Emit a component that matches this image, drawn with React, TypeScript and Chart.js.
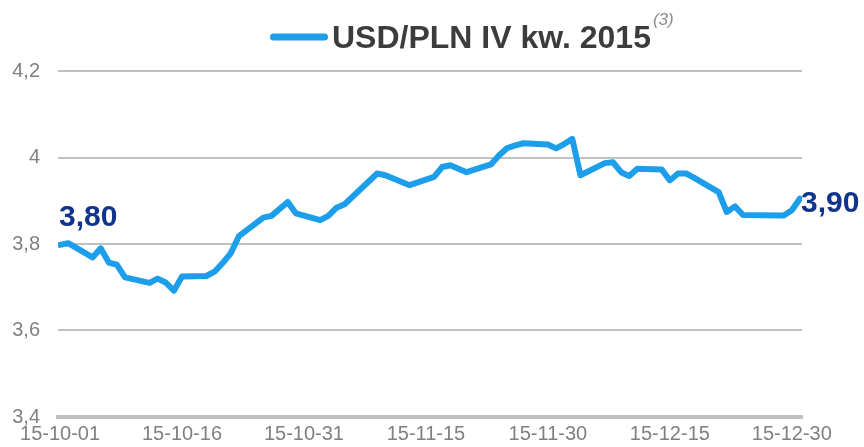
import React, { useEffect, useRef } from "react";
import { Chart, registerables } from "chart.js";

Chart.register(...registerables);

// ---- data ----
const DATES = [
  "2015-10-01", "2015-10-02", "2015-10-05", "2015-10-06", "2015-10-07", "2015-10-08", "2015-10-09",
  "2015-10-12", "2015-10-13", "2015-10-14", "2015-10-15", "2015-10-16", "2015-10-19", "2015-10-20",
  "2015-10-21", "2015-10-22", "2015-10-23", "2015-10-26", "2015-10-27", "2015-10-29", "2015-10-30",
  "2015-11-02", "2015-11-03", "2015-11-04", "2015-11-05", "2015-11-09", "2015-11-10", "2015-11-13",
  "2015-11-16", "2015-11-17", "2015-11-18", "2015-11-20", "2015-11-23", "2015-11-24", "2015-11-25",
  "2015-11-26", "2015-11-27", "2015-11-30", "2015-12-01", "2015-12-02", "2015-12-03", "2015-12-04",
  "2015-12-07", "2015-12-08", "2015-12-09", "2015-12-10", "2015-12-11", "2015-12-14", "2015-12-15",
  "2015-12-16", "2015-12-17", "2015-12-18", "2015-12-21", "2015-12-22", "2015-12-23", "2015-12-24",
  "2015-12-29", "2015-12-30", "2015-12-31",
];
const VALUES = [
  3.798, 3.802, 3.769, 3.790, 3.757, 3.752, 3.723,
  3.710, 3.720, 3.711, 3.692, 3.725, 3.726, 3.736,
  3.756, 3.779, 3.818, 3.861, 3.865, 3.897, 3.871,
  3.855, 3.865, 3.884, 3.892, 3.963, 3.959, 3.936,
  3.955, 3.978, 3.982, 3.966, 3.984, 4.005, 4.022,
  4.028, 4.033, 4.030, 4.021, 4.031, 4.043, 3.959,
  3.987, 3.989, 3.966, 3.957, 3.974, 3.972, 3.947,
  3.963, 3.963, 3.953, 3.920, 3.874, 3.887, 3.867,
  3.866, 3.878, 3.905,
];
const X_TICK_DATES = ["2015-10-01", "2015-10-16", "2015-10-31", "2015-11-15", "2015-11-30", "2015-12-15", "2015-12-30"];
const X_TICK_LABELS = ["15-10-01", "15-10-16", "15-10-31", "15-11-15", "15-11-30", "15-12-15", "15-12-30"];
const Y_TICKS = [3.4, 3.6, 3.8, 4.0, 4.2];
const Y_TICK_LABELS = ["3,4", "3,6", "3,8", "4", "4,2"];
const SERIES_LABEL = "USD/PLN IV kw. 2015";
const SERIES_NOTE = "(3)";
const END_LABELS = ["3,80", "3,90"];

// ---- helpers ----
const ORIGIN = Date.UTC(2015, 9, 1);
const dayOf = (s: string) => {
  const [y, m, d] = s.split("-").map(Number);
  return (Date.UTC(y, m - 1, d) - ORIGIN) / 86400000;
};

const LINE_COLOR = "#1D9EEA";
const GRID_COLOR = "#c0c0c0";
const TICK_COLOR = "#808080";
const NAVY = "#10348C";
const FONT = "'Liberation Sans', Arial, sans-serif";

const overlayPlugin = {
  id: "overlay",
  afterDatasetsDraw(chart: any) {
    const ctx = chart.ctx;
    const meta = chart.getDatasetMeta(0);
    const pts = meta.data;
    if (!pts.length) return;
    const first = pts[0];
    const last = pts[pts.length - 1];
    ctx.save();
    ctx.fillStyle = NAVY;
    ctx.font = `bold 30px ${FONT}`;
    ctx.textAlign = "left";
    ctx.textBaseline = "alphabetic";
    ctx.fillText(END_LABELS[0], first.x - 1, first.y - 19);
    ctx.textBaseline = "middle";
    ctx.fillText(END_LABELS[1], last.x + 1, last.y + 5);
    ctx.restore();
  },
  afterDraw(chart: any) {
    const ctx = chart.ctx;
    ctx.save();
    // legend sample line
    ctx.strokeStyle = LINE_COLOR;
    ctx.lineWidth = 7;
    ctx.lineCap = "round";
    ctx.beginPath();
    ctx.moveTo(273.5, 37);
    ctx.lineTo(324.5, 37);
    ctx.stroke();
    // legend text
    ctx.fillStyle = "#3c3c3c";
    ctx.font = `bold 32px ${FONT}`;
    ctx.textAlign = "left";
    ctx.textBaseline = "alphabetic";
    const tx = 332;
    ctx.fillText(SERIES_LABEL, tx, 48);
    const w = ctx.measureText(SERIES_LABEL).width;
    ctx.fillStyle = "#8a8a8a";
    ctx.font = `italic 17px ${FONT}`;
    ctx.fillText(SERIES_NOTE, tx + w + 2, 24.5);
    ctx.restore();
  },
};

export default function App() {
  const ref = useRef<HTMLCanvasElement | null>(null);

  useEffect(() => {
    if (!ref.current) return;
    const data = DATES.map((d, i) => ({ x: dayOf(d), y: VALUES[i] }));
    const xTicks = X_TICK_DATES.map(dayOf);
    const chart = new Chart(ref.current, {
      type: "line",
      data: {
        datasets: [
          {
            label: SERIES_LABEL,
            data,
            borderColor: LINE_COLOR,
            backgroundColor: LINE_COLOR,
            borderWidth: 6,
            pointRadius: 0,
            tension: 0,
            borderJoinStyle: "round",
            borderCapStyle: "round",
          },
        ],
      },
      options: {
        animation: false,
        responsive: true,
        maintainAspectRatio: false,
        layout: { padding: { top: 71, right: 62, left: 0, bottom: 0 } },
        plugins: { legend: { display: false }, tooltip: { enabled: false } },
        scales: {
          x: {
            type: "linear",
            min: -0.25,
            max: 91.25,
            afterFit: (s: any) => { s.height = 28; },
            afterBuildTicks: (s: any) => { s.ticks = xTicks.map((v) => ({ value: v })); },
            grid: { display: false, drawTicks: false },
            border: { display: true, width: 4, color: GRID_COLOR },
            ticks: {
              padding: 5,
              color: TICK_COLOR,
              font: { family: FONT, size: 20 },
              maxRotation: 0,
              autoSkip: false,
              callback: (v: any) => {
                const i = xTicks.indexOf(Number(v));
                return i >= 0 ? X_TICK_LABELS[i] : "";
              },
            },
          },
          y: {
            min: Y_TICKS[0],
            max: Y_TICKS[Y_TICKS.length - 1],
            afterFit: (s: any) => { s.width = 58; },
            afterBuildTicks: (s: any) => { s.ticks = Y_TICKS.map((v) => ({ value: v })); },
            grid: { color: GRID_COLOR, lineWidth: 2, drawTicks: false },
            border: { display: false },
            ticks: {
              padding: 18,
              color: TICK_COLOR,
              font: { family: FONT, size: 20 },
              callback: (v: any) => {
                const i = Y_TICKS.findIndex((t) => Math.abs(t - Number(v)) < 1e-6);
                return i >= 0 ? Y_TICK_LABELS[i] : "";
              },
            },
          },
        },
      },
      plugins: [overlayPlugin],
    } as any);
    return () => chart.destroy();
  }, []);

  return (
    <div style={{ position: "absolute", left: 0, top: 0, width: 864, height: 447, background: "#fff" }}>
      <canvas ref={ref} />
    </div>
  );
}
